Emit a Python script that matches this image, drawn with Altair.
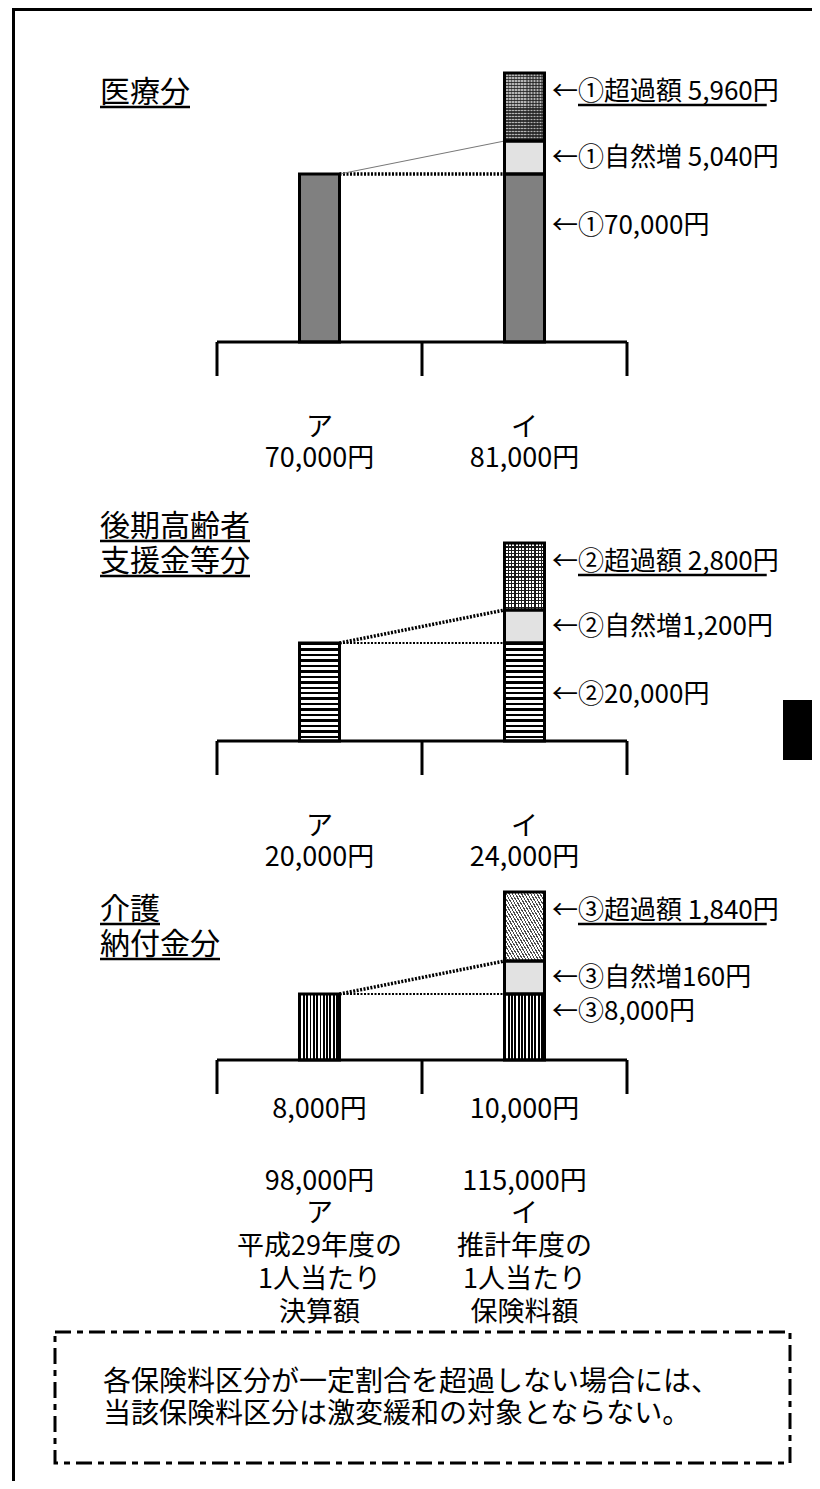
import altair as alt
import pandas as pd

# ---------------- data ----------------
categories = ["ア", "イ"]
section_titles = [["医療分"], ["後期高齢者", "支援金等分"], ["介護", "納付金分"]]
circled = ["①", "②", "③"]
base_amount = [70000, 20000, 8000]
natural_amount = [5040, 1200, 160]
excess_amount = [5960, 2800, 1840]
total_a = [70000, 20000, 8000]
total_i = [81000, 24000, 10000]
grand_total = [98000, 115000]
# the diagram is schematic (not to scale): drawn segment heights
base_drawn = [168, 98, 66]
natural_drawn = [33, 33, 33]
excess_drawn = [68, 67, 69]
natural_sep = [" ", "", ""]
caption_a = ["平成29年度の", "1人当たり", "決算額"]
caption_i = ["推計年度の", "1人当たり", "保険料額"]
note_lines = ["各保険料区分が一定割合を超過しない場合には、",
              "当該保険料区分は激変緩和の対象とならない。"]

# ---------------- layout / style ----------------
FONT = "Noto Sans CJK JP"
PAGE_X0, PAGE_Y0 = 12, 8
VIEW_W, VIEW_H = 800, 1473
SLOT_PX = 205
BRACKET_LEFT = 217


def sx(page_x):
    return (page_x - BRACKET_LEFT) / SLOT_PX - 0.5


HB = 20 / SLOT_PX
x_scale = alt.Scale(domain=[sx(PAGE_X0), sx(PAGE_X0 + VIEW_W)], nice=False, zero=False)
y_scale = alt.Scale(domain=[PAGE_Y0 + VIEW_H, PAGE_Y0], nice=False, zero=False)


def X(f):
    return alt.X(f, type="quantitative", scale=x_scale, axis=None)


def Y(f):
    return alt.Y(f, type="quantitative", scale=y_scale, axis=None)


BASELINES = [342, 741, 1060]
FRAME_X, FRAME_Y = 13.5, 9.5
title_y_page = [93, 527, 910]   # centre of first title line
TITLE_LH = 35
base_label_drop = [52, 52, 18]
connector_kinds = [("thick_dot", "thin_solid"), ("thin_dot", "thick_dot"), ("thin_dot", "thick_dot")]
TITLE_FS, LABEL_FS, ANN_FS, NOTE_FS = 30, 27, 26, 28
ANN_LEFT = 552
TITLE_LEFT = 100

HORIZ = (0, 0, 0, 1)
VERT = (0, 0, 1, 0)
DIAG = (0, 1, 1, 0)
CLEAR = "rgba(255,255,255,0)"


def stripes(n, line, bg, frac, vec):
    x1, y1, x2, y2 = vec
    stops = []
    for k in range(n):
        a = k / n
        m = (k + frac) / n
        b = (k + 1) / n
        stops += [alt.GradientStop(color=line, offset=a), alt.GradientStop(color=line, offset=m),
                  alt.GradientStop(color=bg, offset=m), alt.GradientStop(color=bg, offset=b)]
    return alt.LinearGradient(gradient="linear", stops=stops, x1=x1, y1=y1, x2=x2, y2=y2)


def text_px(s, size):
    w = 0.0
    for ch in s:
        if ch.isdigit():
            w += 0.553
        elif ch == ",":
            w += 0.27
        elif ch == " ":
            w += 0.224
        else:
            w += 1.0
    return w * size


def fills(i):
    b, n, e = base_drawn[i], natural_drawn[i], excess_drawn[i]
    bw = 2 * HB * SLOT_PX
    natural = ["#e2e2e2"]
    if i == 0:
        base = ["#808080"]
        excess = [stripes(round(e / 3), "#3a3a3a", "#b4b4b4", 0.5, HORIZ),
                  stripes(round(bw / 3), "rgba(30,30,30,0.5)", CLEAR, 0.5, VERT)]
    elif i == 1:
        base = [stripes(round(b / 5.4), "black", "white", 0.45, HORIZ)]
        excess = [stripes(round(e / 3.4), "#1a1a1a", "white", 0.35, HORIZ),
                  stripes(round(bw / 3.4), "#1a1a1a", CLEAR, 0.35, VERT)]
    else:
        base = [stripes(round(bw / 3.4), "black", "white", 0.55, VERT)]
        excess = [stripes(26, "#4a4a4a", "white", 0.4, DIAG)]
    return {"base": base, "natural": natural, "excess": excess}


CONN_STYLE = {
    "thick_dot": dict(stroke="black", strokeWidth=3.5, strokeDash=[2, 1.5]),
    "thin_dot": dict(stroke="black", strokeWidth=2, strokeDash=[2, 1.5]),
    "thin_solid": dict(stroke="#777777", strokeWidth=1),
}


def text_layer(rows, size, align="center"):
    return alt.Chart(pd.DataFrame(rows)).mark_text(
        font=FONT, fontSize=size, align=align, baseline="middle", color="black"
    ).encode(x=X("x"), y=Y("y"), text=alt.Text("t:N"))


def block_layer(rows, size, lh, align="center"):
    """multi-line text; each row's y is the centre of its first line"""
    df = pd.DataFrame([{"t": "\n".join(r["lines"]), "x": r["x"], "y": r["y"] - lh / 2} for r in rows])
    return alt.Chart(df).mark_text(
        font=FONT, fontSize=size, align=align, baseline="line-top", lineHeight=lh,
        lineBreak="\n", color="black"
    ).encode(x=X("x"), y=Y("y"), text=alt.Text("t:N"))


def rule_layer(rows, **style):
    return alt.Chart(pd.DataFrame(rows)).mark_rule(**style).encode(x=X("x0"), x2="x1", y=Y("y0"), y2="y1")


def rect_layer(df, **style):
    return alt.Chart(df).mark_rect(**style).encode(x=X("x0"), x2="x1", y=Y("y0"), y2="y1")


def panel_layers(i):
    base_y = BASELINES[i]

    def py(u):  # height above the panel baseline -> page y
        return base_y - u

    b, n, e = base_drawn[i], natural_drawn[i], excess_drawn[i]
    ia, ii = categories.index("ア"), categories.index("イ")
    segs = pd.DataFrame([
        {"seg": "base", "x0": ia - HB, "x1": ia + HB, "y0": py(0), "y1": py(b)},
        {"seg": "base", "x0": ii - HB, "x1": ii + HB, "y0": py(0), "y1": py(b)},
        {"seg": "natural", "x0": ii - HB, "x1": ii + HB, "y0": py(b), "y1": py(b + n)},
        {"seg": "excess", "x0": ii - HB, "x1": ii + HB, "y0": py(b + n), "y1": py(b + n + e)},
    ])
    layers = []

    # connectors between the two bars
    hk, dk = connector_kinds[i]
    layers.append(rule_layer([{"x0": ia + HB, "x1": ii - HB, "y0": py(b), "y1": py(b)}], **CONN_STYLE[hk]))
    layers.append(rule_layer([{"x0": ia + HB, "x1": ii - HB, "y0": py(b), "y1": py(b + n)}], **CONN_STYLE[dk]))

    # bar fills and outlines
    for seg, fl in fills(i).items():
        df = segs[segs.seg == seg]
        for f in fl:
            layers.append(rect_layer(df, fill=f, strokeWidth=0))
    layers.append(rect_layer(segs, fill="white", fillOpacity=0, stroke="black", strokeWidth=3))

    # bracket under the bars
    edges = [k - 0.5 for k in range(len(categories))] + [len(categories) - 0.5]
    br = [{"x0": edges[0], "x1": edges[-1], "y0": py(0), "y1": py(0)}]
    br += [{"x0": ex, "x1": ex, "y0": py(0), "y1": py(-34)} for ex in edges]
    layers.append(rule_layer(br, stroke="black", strokeWidth=3))

    # annotations on the right
    c = circled[i]
    ann = [
        {"t": f"←{c}超過額 {excess_amount[i]:,}円", "x": sx(ANN_LEFT), "y": py(b + n + e - 19)},
        {"t": f"←{c}自然増{natural_sep[i]}{natural_amount[i]:,}円", "x": sx(ANN_LEFT), "y": py(b + n / 2)},
        {"t": f"←{c}{base_amount[i]:,}円", "x": sx(ANN_LEFT), "y": py(b - base_label_drop[i])},
    ]
    layers.append(text_layer(ann, ANN_FS, align="left"))
    ul = [{"x0": sx(ANN_LEFT + ANN_FS), "x1": sx(ANN_LEFT + text_px(ann[0]["t"], ANN_FS)),
           "y0": ann[0]["y"] + 13, "y1": ann[0]["y"] + 13}]

    # section title (underlined)
    ty0 = title_y_page[i]
    layers.append(block_layer([{"lines": section_titles[i], "x": sx(TITLE_LEFT), "y": ty0}],
                              TITLE_FS, TITLE_LH, align="left"))
    for j, line in enumerate(section_titles[i]):
        uy = ty0 + j * TITLE_LH + 14
        ul.append({"x0": sx(TITLE_LEFT), "x1": sx(TITLE_LEFT + text_px(line, TITLE_FS)), "y0": uy, "y1": uy})
    layers.append(rule_layer(ul, stroke="black", strokeWidth=2.5))

    # labels under the bars
    totals = [total_a[i], total_i[i]]
    if i < 2:
        rows = [{"lines": [cat, f"{totals[k]:,}円"], "x": k, "y": py(-86)} for k, cat in enumerate(categories)]
        layers.append(block_layer(rows, LABEL_FS, 31))
    else:
        caps = [caption_a, caption_i]
        layers.append(text_layer([{"t": f"{totals[k]:,}円", "x": k, "y": py(-50)}
                                  for k in range(len(categories))], LABEL_FS))
        rows = [{"lines": [f"{grand_total[k]:,}円", cat] + caps[k], "x": k, "y": py(-122)}
                for k, cat in enumerate(categories)]
        layers.append(block_layer(rows, LABEL_FS, 32.75))
    return layers


layers = []
# outer frame (top and left edges)
layers.append(rule_layer([
    {"x0": sx(FRAME_X), "x1": sx(FRAME_X), "y0": PAGE_Y0, "y1": PAGE_Y0 + VIEW_H},
    {"x0": sx(FRAME_X - 1.5), "x1": sx(PAGE_X0 + VIEW_W), "y0": FRAME_Y, "y1": FRAME_Y},
], stroke="black", strokeWidth=3))
for i in range(3):
    layers += panel_layers(i)

# page tab marker at the right edge
layers.append(rect_layer(pd.DataFrame([{"x0": sx(783), "x1": sx(PAGE_X0 + VIEW_W), "y0": 700, "y1": 760}]),
                         fill="black"))

# note box
layers.append(rect_layer(pd.DataFrame([{"x0": sx(55), "x1": sx(790), "y0": 1332, "y1": 1463}]),
                         fill="white", fillOpacity=0, stroke="black", strokeWidth=3, strokeDash=[16, 6, 6, 6]))
layers.append(block_layer([{"lines": note_lines, "x": sx(103), "y": 1383}], NOTE_FS, 32, align="left"))

chart = alt.layer(*layers).properties(
    width=VIEW_W, height=VIEW_H,
    padding={"left": PAGE_X0 - 8, "top": PAGE_Y0 - 8, "right": 0, "bottom": 0},
    autosize=alt.AutoSizeParams(type="none"),
    background="white",
).configure_view(stroke="transparent")

chart.save("out.html", embed_options={"renderer": "svg", "actions": False})
